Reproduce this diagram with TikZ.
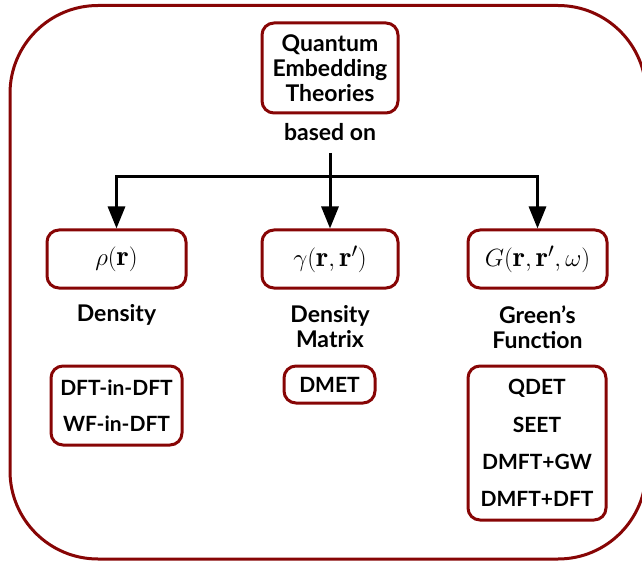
\documentclass[tikz,border=0pt]{standalone}
\usepackage{fontspec}
\usetikzlibrary{arrows.meta}
\newfontfamily\latofont{Lato}
\definecolor{frame}{RGB}{135,5,5}
\begin{document}
\begin{tikzpicture}[x=1pt,y=-1pt,
  every node/.style={font=\latofont\bfseries\fontsize{23}{25}\selectfont, inner sep=0pt, align=center},
  rbox/.style={draw=frame, line width=3pt, rounded corners=12pt},
  mathtxt/.style={font=\fontsize{28.5}{32}\selectfont},
  conn/.style={line width=3pt, black},
  arr/.style={conn, -{Triangle[length=22pt,width=17pt]}}]
\useasboundingbox (0,0) rectangle (642,561);
\draw[frame, line width=3pt, rounded corners=88pt] (10,5.5) rectangle (646,559);

\node[rbox, minimum width=136pt, minimum height=90pt] (qet) at (330,68) {Quantum\\Embedding\\Theories};
\node (based) at (330,132) {based on};

\node[rbox, mathtxt, minimum width=139pt, minimum height=58pt] (rho) at (116.5,259) {$\rho(\mathbf{r})$};
\node[rbox, mathtxt, minimum width=136pt, minimum height=58pt] (gam) at (330,259) {$\gamma(\mathbf{r},\mathbf{r}')$};
\node[rbox, mathtxt, minimum width=139pt, minimum height=58pt] (gf) at (537.5,259) {$G(\mathbf{r},\mathbf{r}',\omega)$};

\coordinate (start) at (330,153);
\coordinate (jl) at (116.5,177);
\coordinate (jm) at (330,177);
\coordinate (jr) at (537.5,177);
\draw[conn] (start) -- (jm);
\draw[conn, line cap=rect] (jl) -- (jr);
\draw[arr] (jm) -- (gam.north);
\draw[arr] (jl) -- (rho.north);
\draw[arr] (jr) -- (gf.north);

\node (lden) at (116.5,315) {Density};
\node (ldm) at (330,327) {Density\\Matrix};
\node (lgf) at (537.5,327) {Green’s\\Function};

\node[rbox, minimum width=131pt, minimum height=79pt, font=\latofont\bfseries\fontsize{21}{36.5}\selectfont] (dft) at (116.5,405.5) {DFT-in-DFT\\WF-in-DFT};
\node[rbox, minimum width=91pt, minimum height=37pt, font=\latofont\bfseries\fontsize{21}{25}\selectfont] (dmet) at (329.5,384.5) {DMET};
\node[rbox, minimum width=138pt, minimum height=154pt, font=\latofont\bfseries\fontsize{21}{37.3}\selectfont] (gfm) at (537,443) {QDET\\SEET\\DMFT+GW\\DMFT+DFT};
\end{tikzpicture}
\end{document}
